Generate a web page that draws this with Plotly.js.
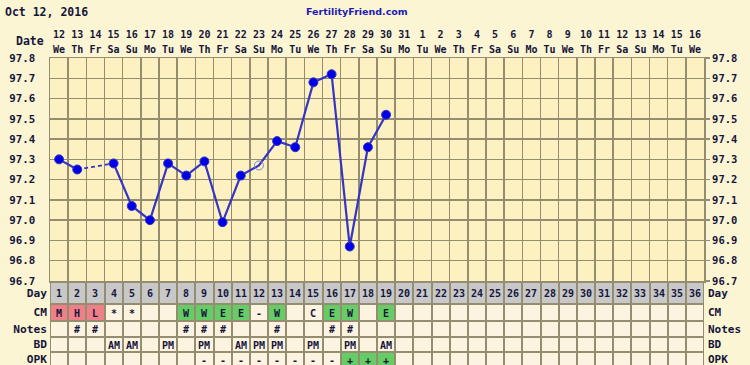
<!DOCTYPE html>
<html>
<head>
<meta charset="utf-8">
<script src="https://cdn.plot.ly/plotly-3.0.1.min.js"></script>
<style>html,body{margin:0;padding:0;background:#FCF5D4;}#chart{width:750px;height:365px;}</style>
</head>
<body>
<div id="chart"></div>
<script>
// ---------- data ----------
const days = [1,2,3,4,5,6,7,8,9,10,11,12,13,14,15,16,17,18,19,20,21,22,23,24,25,26,27,28,29,30,31,32,33,34,35,36];
const dateLabels = ['12','13','14','15','16','17','18','19','20','21','22','23','24','25','26','27','28','29','30','31',
                    '1','2','3','4','5','6','7','8','9','10','11','12','13','14','15','16'];
const dowLabels = ['We','Th','Fr','Sa','Su','Mo','Tu','We','Th','Fr','Sa','Su','Mo','Tu','We','Th','Fr','Sa','Su','Mo',
                   'Tu','We','Th','Fr','Sa','Su','Mo','Tu','We','Th','Fr','Sa','Su','Mo','Tu','We'];
const tempDays = [1,2,3,4,5,6,7,8,9,10,11,12,13,14,15,16,17,18,19];
const temps = [97.30,97.25,null,97.28,97.07,97.00,97.28,97.22,97.29,96.99,97.22,97.27,97.39,97.36,97.68,97.72,96.87,97.36,97.52];
const discarded = [12];
const tempTicks = [96.7,96.8,96.9,97.0,97.1,97.2,97.3,97.4,97.5,97.6,97.7,97.8];
const tempTickLabels = ['96.7','96.8','96.9','97.0','97.1','97.2','97.3','97.4','97.5','97.6','97.7','97.8'];
const rowNames = ['Day','CM','Notes','BD','OPK'];
const cm    = ['M','H','L','*','*','','','W','W','E','E','-','W','','C','E','W','','E'];
const notes = ['','#','#','','','','','#','#','#','','','#','','','#','#','',''];
const bd    = ['','','','AM','AM','','PM','','PM','','AM','PM','PM','','PM','','PM','','AM'];
const opk   = ['','','','','','','','','-','-','-','-','-','-','-','-','+','+','+'];

// ---------- styles ----------
const PAPER = '#FCF5D4', PLOT = '#FDF1C1', GRID = '#958D70';
const CREAM = '#FCF3E1', GRAY = '#C8C8C8', PINK = '#EF8088', GREEN = '#66CC66';
const TXT = '#15153A';
const FONT = 'DejaVu Sans Mono';
const rowEdges = [0,22,39,55,70,85];
const tableRange = [83,0];

const pad = (arr) => days.map((d,i) => (i < arr.length ? arr[i] : ''));
const cmP = pad(cm), notesP = pad(notes), bdP = pad(bd), opkP = pad(opk);
const cmCode = v => (['M','H','L'].includes(v) ? 2 : (['W','E'].includes(v) ? 3 : 0));
const opkCode = v => (v === '+' ? 3 : 0);

const z = [
  days.map(() => 1),
  cmP.map(cmCode),
  notesP.map(() => 0),
  bdP.map(() => 0),
  opkP.map(opkCode)
];
const text = [days.map(String), cmP, notesP, bdP, opkP];

// dashed bridges across missing temps
const dashX = [], dashY = [];
for (let i = 0; i < temps.length; i++) {
  if (temps[i] === null) {
    let p = i - 1; while (p >= 0 && temps[p] === null) p--;
    let n = i + 1; while (n < temps.length && temps[n] === null) n++;
    if (p >= 0 && n < temps.length) {
      dashX.push(tempDays[p], tempDays[n], null);
      dashY.push(temps[p], temps[n], null);
      i = n - 1;
    }
  }
}
const isDisc = tempDays.map(d => discarded.includes(d));

const traces = [
  {
    type: 'heatmap', x: days, y: rowEdges, z: z, text: text,
    texttemplate: '%{text}', textfont: {family: FONT, size: 10, color: TXT, weight: 'bold'},
    colorscale: [[0, CREAM], [1/3, GRAY], [2/3, PINK], [1, GREEN]], zmin: 0, zmax: 3,
    showscale: false, xgap: 2, ygap: 2, hoverinfo: 'skip', xaxis: 'x', yaxis: 'y2'
  },
  {
    type: 'scatter', mode: 'lines', x: dashX, y: dashY,
    line: {color: '#3535C4', width: 1.8, dash: '4px,3px'}, hoverinfo: 'skip', xaxis: 'x', yaxis: 'y'
  },
  {
    type: 'scatter', mode: 'lines+markers', x: tempDays, y: temps, connectgaps: false,
    line: {color: '#3535C4', width: 2.2},
    marker: {
      size: 9,
      symbol: isDisc.map(d => d ? 'circle-open' : 'circle'),
      color: isDisc.map(d => d ? '#8080D8' : '#0000E6'),
      line: {width: 1}
    },
    hoverinfo: 'skip', xaxis: 'x', yaxis: 'y'
  },
  // empty carriers so the overlay label axes get drawn
  {type: 'scatter', x: [], y: [], xaxis: 'x2', yaxis: 'y', hoverinfo: 'skip', showlegend: false},
  {type: 'scatter', x: [], y: [], xaxis: 'x', yaxis: 'y4', hoverinfo: 'skip', showlegend: false},
  {type: 'scatter', x: [], y: [], xaxis: 'x', yaxis: 'y3', hoverinfo: 'skip', showlegend: false}
];

const halfs = days.map(d => d - 0.5).concat([36.5]);
const rowCenters = rowNames.map((r, i) => (rowEdges[i] + rowEdges[i + 1]) / 2);

const tempTop = 1, tempBot = (365 - 281) / 307, tabTop = (365 - 282) / 307;

const layout = {
  width: 750, height: 365,
  margin: {l: 50, r: 46, t: 58, b: 0, pad: 0},
  paper_bgcolor: PAPER, plot_bgcolor: PLOT,
  showlegend: false,
  font: {family: FONT, color: TXT, weight: 'bold'},
  xaxis: {
    range: [0.5, 36.5], side: 'top', anchor: 'y',
    tickvals: days, ticktext: dowLabels, ticks: '', ticklabelstandoff: 0.5,
    tickfont: {family: FONT, size: 10, color: TXT, weight: 'bold'},
    showgrid: false, zeroline: false,
    minor: {tickvals: halfs, showgrid: true, gridcolor: GRID, gridwidth: 1.5, ticks: ''},
    showline: true, mirror: true, linecolor: GRID, linewidth: 1.5, fixedrange: true
  },
  xaxis2: {
    range: [0.5, 36.5], side: 'top', anchor: 'y', overlaying: 'x',
    tickvals: days, ticktext: dateLabels, ticks: 'outside', ticklen: 15, tickcolor: 'rgba(0,0,0,0)',
    tickfont: {family: FONT, size: 10, color: TXT, weight: 'bold'},
    showgrid: false, zeroline: false, showline: false, fixedrange: true
  },
  yaxis: {
    domain: [tempBot, tempTop], range: [96.6999, 97.8001],
    tickvals: tempTicks, ticktext: tempTickLabels, ticks: '', ticklabelstandoff: 11,
    tickfont: {family: FONT, size: 10.8, color: TXT, weight: 'bold'},
    showgrid: true, gridcolor: GRID, gridwidth: 1.5, zeroline: false,
    showline: true, mirror: true, linecolor: GRID, linewidth: 1.5, fixedrange: true
  },
  yaxis4: {
    overlaying: 'y', side: 'right', anchor: 'x', range: [96.6999, 97.8001],
    tickvals: tempTicks, ticktext: tempTickLabels, ticks: 'outside', ticklen: 5, tickcolor: GRID, tickwidth: 1.5,
    tickfont: {family: FONT, size: 10.5, color: TXT, weight: 'bold'},
    showgrid: false, zeroline: false, showline: false, fixedrange: true
  },
  yaxis2: {
    domain: [0, tabTop], range: tableRange,
    tickvals: rowCenters, ticktext: rowNames, ticks: '', ticklabelstandoff: 2, ticklabeloverflow: 'allow',
    tickfont: {family: FONT, size: 11.2, color: TXT, weight: 'bold'},
    showgrid: false, zeroline: false, showline: false, fixedrange: true
  },
  yaxis3: {
    overlaying: 'y2', side: 'right', anchor: 'x', range: tableRange,
    tickvals: rowCenters, ticktext: rowNames, ticks: '', ticklabelstandoff: 3, ticklabeloverflow: 'allow',
    tickfont: {family: FONT, size: 11, color: TXT, weight: 'bold'},
    showgrid: false, zeroline: false, showline: false, fixedrange: true
  },
  shapes: [
    {type: 'rect', xref: 'x domain', yref: 'y2 domain', x0: 0, x1: 1, y0: 0, y1: 1,
     fillcolor: GRID, line: {width: 0}, layer: 'below'}
  ],
  annotations: [
    {text: 'Oct 12, 2016', xref: 'paper', yref: 'paper', x: -47/654, y: 1 + (58-12)/307,
     xanchor: 'left', yanchor: 'middle', showarrow: false,
     font: {family: FONT, size: 11.5, color: TXT, weight: 'bold'}},
    {text: 'FertilityFriend.com', xref: 'paper', yref: 'paper', x: (357-50)/654, y: 1 + (58-12)/307,
     xanchor: 'center', yanchor: 'middle', showarrow: false,
     font: {family: 'DejaVu Sans', size: 9.5, color: '#1C1CB4', weight: 'bold'}},
    {text: 'Date', xref: 'paper', yref: 'paper', x: -4/654, y: 1 + (58-41)/307,
     xanchor: 'right', yanchor: 'middle', showarrow: false,
     font: {family: FONT, size: 11.5, color: TXT, weight: 'bold'}}
  ]
};

Plotly.newPlot('chart', traces, layout, {staticPlot: true, displayModeBar: false});
</script>
</body>
</html>
